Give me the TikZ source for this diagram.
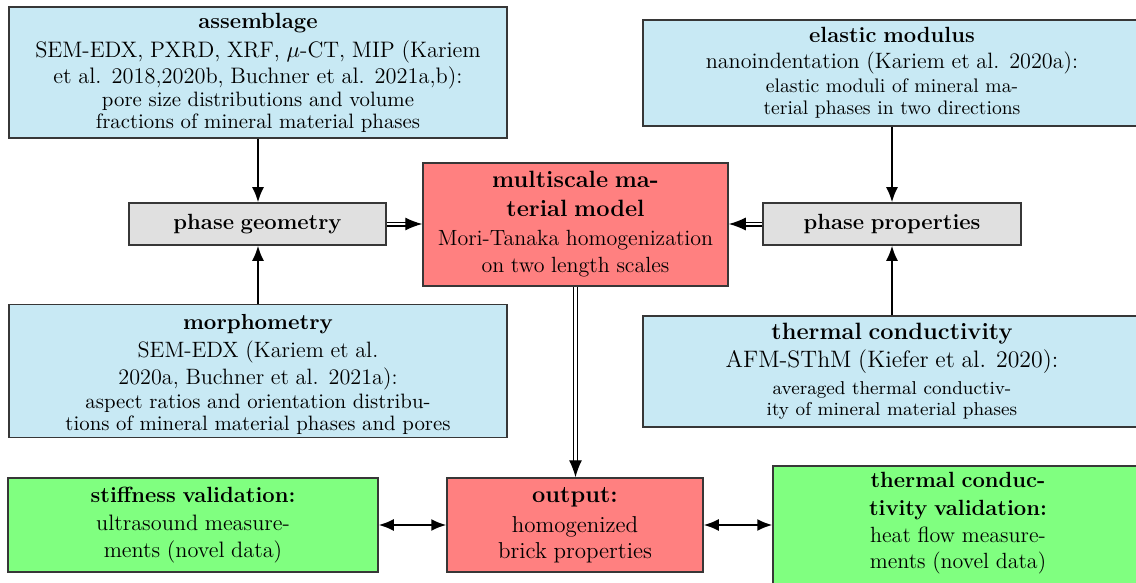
\RequirePackage{fix-cm}
\documentclass[tikz,border=0pt]{standalone}
\usetikzlibrary{arrows.meta}
\setlength{\parindent}{0pt}
\setlength{\parskip}{0pt}
\definecolor{boxblue}{RGB}{200,233,244}
\definecolor{boxgray}{RGB}{224,224,224}
\definecolor{boxred}{RGB}{255,128,128}
\definecolor{boxgreen}{RGB}{128,255,128}
\definecolor{edgecol}{RGB}{55,55,55}
\newcommand{\BLine}[3]{{\fontsize{#1}{#2}\selectfont\bfseries #3\par}}
\newcommand{\RLine}[3]{{\fontsize{#1}{#2}\selectfont #3\par}}
\tikzset{
  basebox/.style={draw=edgecol, line width=0.75pt, inner sep=0pt, align=center},
  bluebox/.style={basebox, fill=boxblue, minimum width=249pt, text width=245pt},
  graybox/.style={basebox, fill=boxgray, minimum height=21pt},
  redbox/.style={basebox, fill=boxred},
  greenbox/.style={basebox, fill=boxgreen, minimum width=185pt, text width=180pt},
  arr/.style={line width=0.9pt, -{Latex[length=7.5pt,width=6pt]}},
  darr/.style={line width=0.6pt, double, double distance=1.3pt, -{Latex[length=8.5pt,width=6.5pt]}},
  barr/.style={line width=0.9pt, {Latex[length=7.5pt,width=6pt]}-{Latex[length=7.5pt,width=6pt]}}
}
\begin{document}
\begin{tikzpicture}[x=0.5pt,y=-0.5pt]
\useasboundingbox (0,0) rectangle (1136,583);

\node[bluebox, minimum height=65.5pt] (asm) at (258,72.5) {%
\BLine{11}{13}{assemblage}%
\RLine{11.2}{14.5}{SEM-EDX, PXRD, XRF, $\mu$-CT, MIP (Kariem}%
\RLine{11.2}{13}{et al. 2018,2020b, Buchner et al. 2021a,b):}%
\RLine{10.4}{11.5}{pore size distributions and volume}%
\RLine{10.4}{11}{fractions of mineral material phases}};

\node[bluebox, minimum height=53pt] (ela) at (892,73) {%
\BLine{11}{13}{elastic modulus}%
\RLine{11.1}{13}{nanoindentation (Kariem et al. 2020a):}%
\RLine{9.8}{12}{elastic moduli of mineral ma-}%
\RLine{9.8}{11}{terial phases in two directions}};

\node[bluebox, minimum height=66.5pt, text depth=49pt] (mor) at (258,371) {%
\BLine{10.9}{13}{morphometry}%
\RLine{11.1}{14}{SEM-EDX (Kariem et al.}%
\RLine{11.1}{13.5}{2020a, Buchner et al. 2021a):}%
\RLine{10.4}{12}{aspect ratios and orientation distribu-}%
\RLine{10.4}{11}{tions of mineral material phases and pores}};

\node[bluebox, minimum height=55.5pt] (thc) at (892,371.5) {%
\BLine{11.8}{14}{thermal conductivity}%
\RLine{11.9}{14}{AFM-SThM (Kiefer et al. 2020):}%
\RLine{9.3}{13.5}{averaged thermal conductiv-}%
\RLine{9.3}{10.5}{ity of mineral material phases}};

\node[graybox, minimum width=128.5pt, text width=125pt] (pg) at (257.5,224) {%
\BLine{11}{13}{phase geometry}};

\node[graybox, minimum width=129pt, text width=125pt] (pp) at (892,224) {%
\BLine{11}{13}{phase properties}};

\node[redbox, minimum width=152.5pt, minimum height=61.5pt, text width=150pt] (msm) at (575.5,224.5) {%
\BLine{11.8}{14}{multiscale ma-}%
\BLine{11.8}{14.5}{terial model}%
\RLine{11}{14.5}{Mori-Tanaka homogenization}%
\RLine{11}{13.5}{on two length scales}};

\node[redbox, minimum width=128pt, minimum height=47pt, text width=125pt] (out) at (575,525) {%
\BLine{11.8}{14}{output:}%
\RLine{11.5}{15}{homogenized}%
\RLine{11.5}{13}{brick properties}};

\node[greenbox, minimum height=47pt] (stf) at (193,525) {%
\BLine{11}{13}{stiffness validation:}%
\RLine{11.15}{14}{ultrasound measure-}%
\RLine{11.15}{13.5}{ments (novel data)}};

\node[greenbox, minimum height=62pt, text depth=48.25pt] (tcv) at (958,528) {%
\BLine{11}{13}{thermal conduc-}%
\BLine{11}{14}{tivity validation:}%
\RLine{11}{13.5}{heat flow measure-}%
\RLine{11}{13}{ments (novel data)}};

\draw[arr] (asm.south) -- (asm.south |- pg.north);
\draw[arr] (mor.north) -- (mor.north |- pg.south);
\draw[arr] (ela.south) -- (ela.south |- pp.north);
\draw[arr] (thc.north) -- (thc.north |- pp.south);
\draw[darr] (pg.east) -- (pg.east -| msm.west);
\draw[darr] (pp.west) -- (pp.west -| msm.east);
\draw[darr] (msm.south) -- (msm.south |- out.north);
\draw[barr] (stf.east) -- (out.west);
\draw[barr] (out.east) -- (out.east -| tcv.west);
\end{tikzpicture}
\end{document}
